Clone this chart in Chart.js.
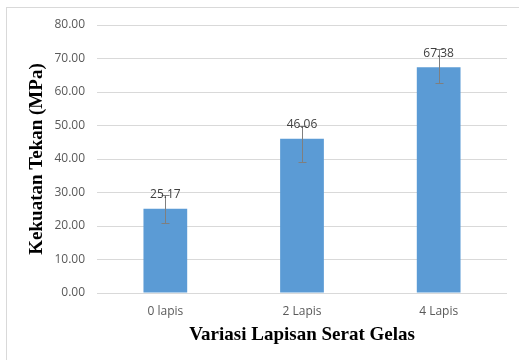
<!DOCTYPE html>
<html>
<head>
<meta charset="utf-8">
<script src="https://cdn.jsdelivr.net/npm/chart.js@4.4.1/dist/chart.umd.min.js"></script>
<style>
  html, body { margin: 0; padding: 0; background: #fff; }
  #wrap { width: 519px; height: 360px; position: relative; }
</style>
</head>
<body>
<div id="wrap"><canvas id="myChart"></canvas></div>
<script>
const labels = ['0 lapis', '2 Lapis', '4 Lapis'];
const values = [25.17, 46.06, 67.38];
const errHigh = [29.2, 49.9, 72.8];
const errLow = [20.9, 39.1, 62.7];

// error bars + value labels drawn on top of each bar
const extras = {
  id: 'extras',
  beforeDraw(chart) {
    const ctx = chart.ctx;
    ctx.save();
    ctx.fillStyle = '#fff';
    ctx.fillRect(0, 0, chart.width, chart.height);
    ctx.strokeStyle = '#d9d9d9';
    ctx.lineWidth = 1;
    ctx.strokeRect(6.5, 7.5, 700, 700);
    ctx.restore();
  },
  afterDatasetsDraw(chart) {
    const ctx = chart.ctx;
    const y = chart.scales.y;
    const meta = chart.getDatasetMeta(0);
    ctx.save();
    meta.data.forEach((bar, i) => {
      const x = Math.round(bar.x) + 0.5;
      const top = Math.round(y.getPixelForValue(errHigh[i])) + 0.5;
      const bot = Math.round(y.getPixelForValue(errLow[i])) + 0.5;
      ctx.strokeStyle = '#7f7f7f';
      ctx.lineWidth = 1;
      ctx.beginPath();
      ctx.moveTo(x, top); ctx.lineTo(x, bot);
      ctx.moveTo(x - 4, top); ctx.lineTo(x + 4, top);
      ctx.moveTo(x - 4, bot); ctx.lineTo(x + 4, bot);
      ctx.stroke();
    });
    meta.data.forEach((bar, i) => {
      ctx.fillStyle = '#404040';
      ctx.font = '12px "Open Sans"';
      ctx.textAlign = 'center';
      ctx.textBaseline = 'middle';
      ctx.fillText(values[i].toFixed(2), bar.x, bar.y - 14);
    });
    ctx.restore();
  }
};

const config = {
  type: 'bar',
  data: {
    labels: labels,
    datasets: [{
      data: values,
      backgroundColor: '#5b9bd5',
      borderWidth: 0,
      categoryPercentage: 1,
      barPercentage: 0.32
    }]
  },
  options: {
    responsive: true,
    maintainAspectRatio: false,
    animation: false,
    layout: { padding: { top: 25, right: 12, bottom: 0, left: 0 } },
    plugins: { legend: { display: false }, tooltip: { enabled: false } },
    scales: {
      x: {
        grid: { display: false, drawTicks: false },
        border: { display: false },
        ticks: { color: '#595959', font: { family: 'Open Sans', size: 12 }, padding: 11 },
        title: {
          display: true,
          text: 'Variasi Lapisan Serat Gelas',
          color: '#000',
          font: { family: 'Liberation Serif', size: 19, weight: 'bold' },
          padding: { top: 0, bottom: 14 }
        },
        afterFit(scale) { scale.height = 67; }
      },
      y: {
        min: 0,
        max: 80,
        grid: { color: '#d9d9d9', drawTicks: false },
        border: { display: false },
        ticks: {
          stepSize: 10,
          color: '#595959',
          font: { family: 'Open Sans', size: 12 },
          padding: 12,
          callback: (v) => Number(v).toFixed(2)
        },
        title: {
          display: true,
          text: 'Kekuatan Tekan (MPa)',
          color: '#000',
          font: { family: 'Liberation Serif', size: 19, weight: 'bold' },
          padding: { top: 26, bottom: 0 }
        },
        afterFit(scale) { scale.width = 97; }
      }
    }
  },
  plugins: [extras]
};

new Chart(document.getElementById('myChart'), config);
</script>
</body>
</html>
